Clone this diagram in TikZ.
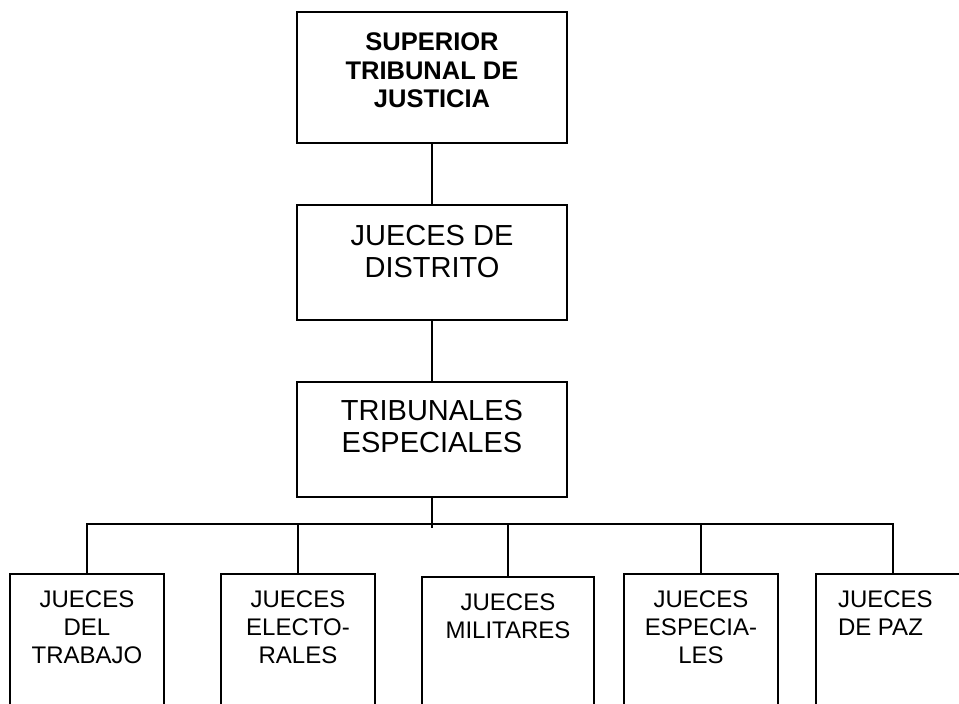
\documentclass[tikz,border=0pt]{standalone}
\usepackage{fontspec}
\setmainfont{Liberation Sans}
\usetikzlibrary{positioning}
\begin{document}
\begin{tikzpicture}[x=1pt, y=-1pt, line width=2pt,
                    box/.style = {draw, rectangle, inner sep=0pt, outer sep=0pt, anchor=north},
                    wide/.style = {box, minimum width=270pt, minimum height=115pt},
                    small/.style = {box, minimum width=154pt, minimum height=160pt},
                    lbl/.style = {align=center, inner sep=0pt,
                                font=\fontsize{24}{28}\selectfont},
                    big/.style = {align=center, inner sep=0pt,
                                font=\fontsize{29}{32}\selectfont}]
  \useasboundingbox (0,0) rectangle (959,704);
  \clip (0,0) rectangle (959,704);
  % Superior tribunal
  \node[box, minimum width=270pt, minimum height=131pt] (sup) at (432,12) {};
  \node[lbl, font=\fontsize{25.5}{28.5}\selectfont\bfseries, below=20pt of sup.north] (supT)
    {SUPERIOR\\TRIBUNAL DE\\JUSTICIA};
  % Jueces de distrito
  \node[wide] (dis) at (432,205) {};
  \node[big, below=19pt of dis.north] (disT) {JUECES DE\\DISTRITO};
  % Tribunales especiales
  \node[wide] (esp) at (432,382) {};
  \node[big, below=17pt of esp.north] (espT) {TRIBUNALES\\ESPECIALES};
  % Bottom row
  \node[small] (jtra) at (87,574) {};
  \node[small] (jele) at (298,574) {};
  \node[small, minimum width=172pt] (jmil) at (508,577) {};
  \node[small] (jesp) at (701,574) {};
  \node[small] (jpaz) at (893,574) {};
  \node[lbl, below=16pt of jtra.north] (jtraT) {JUECES\\DEL\\TRABAJO};
  \node[lbl, below=16pt of jele.north] (jeleT) {JUECES\\ELECTO-\\RALES};
  \node[lbl, below=16pt of jmil.north] (jmilT) {JUECES\\MILITARES};
  \node[lbl, below=16pt of jesp.north] (jespT) {JUECES\\ESPECIA-\\LES};
  \node[lbl, align=left, anchor=north west] (jpazT)
    at ([xshift=21pt,yshift=-16pt]jpaz.north west) {JUECES\\DE PAZ};
  % Connectors
  \coordinate (bus) at (0,524);
  \draw (sup.south) -- (sup.south |- dis.north);
  \draw (dis.south) -- (dis.south |- esp.north);
  \draw (esp.south) -- ++(0,31);
  \draw (jtra.north) -- (jtra.north |- bus) -- (jpaz.north |- bus) -- (jpaz.north);
  \foreach \n in {jele,jmil,jesp}
    \draw (\n.north) -- (\n.north |- bus);
\end{tikzpicture}
\end{document}
